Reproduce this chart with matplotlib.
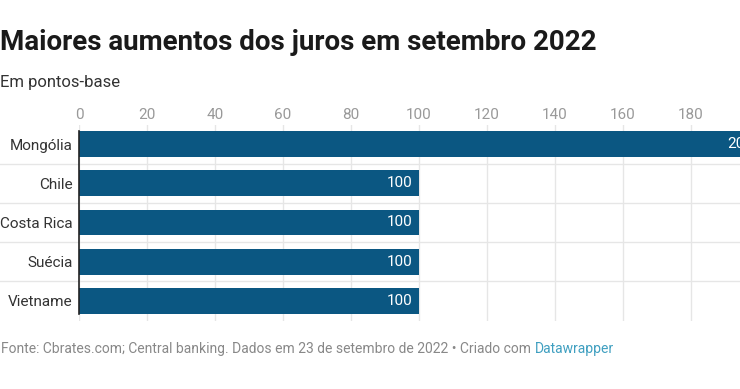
import matplotlib
matplotlib.use("Agg")
import matplotlib.pyplot as plt

plt.rcParams['font.family'] = ['Roboto', 'DejaVu Sans']

countries = ["Mongólia", "Chile", "Costa Rica", "Suécia", "Vietname"]
values = [200, 100, 100, 100, 100]
ticks = [0, 20, 40, 60, 80, 100, 120, 140, 160, 180, 200]

W, H = 740, 389
fig = plt.figure(figsize=(W / 100, H / 100), dpi=100)
fig.patch.set_facecolor("white")

ax_left, ax_right = 79, 759
ax_top, ax_bot = 124.5, 320.5
ax = fig.add_axes([ax_left / W, 1 - ax_bot / H, (ax_right - ax_left) / W, (ax_bot - ax_top) / H])

bar_color = "#0b5782"
ypos = list(range(len(countries)))
bh = 0.66
ax.barh(ypos, values, height=bh, color=bar_color, zorder=3)
ax.set_xlim(0, 200)
ax.set_ylim(len(countries) - 0.5, -0.5)

for y, v in zip(ypos, values):
    ax.annotate(f"{v}", xy=(v, y), xytext=(-4.5, 0), textcoords="offset points",
                ha="right", va="center", color="white", fontsize=11, zorder=4)

for t in ticks:
    ax.axvline(t, color="#e6e6e6", lw=1, zorder=1)
for i in range(len(countries) - 1):
    ax.axhline(i + 0.5, color="#e6e6e6", lw=1, zorder=1)
    ax.plot([-200, 0], [i + 0.5, i + 0.5], color="#e6e6e6", lw=1, clip_on=False, zorder=1)

ax.plot([0, 0], [-bh / 2, len(countries) - 1 + bh / 2], color="#222222", lw=1.2,
        zorder=5, clip_on=False)

ax.xaxis.tick_top()
ax.set_xticks(ticks)
ax.set_xticklabels([str(t) for t in ticks])
ax.tick_params(axis="x", length=0, pad=1.5, labelsize=11, labelcolor="#999999")
ax.set_yticks(ypos)
ax.set_yticklabels(countries)
ax.tick_params(axis="y", length=0, pad=4.5, labelsize=11, labelcolor="#333333")
for s in ax.spines.values():
    s.set_visible(False)

fig.text(0 / W, 1 - 43 / H, "Maiores aumentos dos juros em setembro 2022",
         fontsize=20, fontweight="bold", color="#1a1a1a", va="center", ha="left")
fig.text(0 / W, 1 - 83 / H, "Em pontos-base", fontsize=12, color="#333333",
         va="center", ha="left")
t1 = fig.text(1 / W, 1 - 349 / H,
              "Fonte: Cbrates.com; Central banking. Dados em 23 de setembro de 2022 • Criado com ",
              fontsize=10, color="#888888", va="center", ha="left")
fig.canvas.draw()
r = fig.canvas.get_renderer()
bb = t1.get_window_extent(r)
fig.text(bb.x1 / W, 1 - 349 / H, "Datawrapper", fontsize=10, color="#3f9fc0",
         va="center", ha="left")

fig.savefig("out.png", dpi=100)
